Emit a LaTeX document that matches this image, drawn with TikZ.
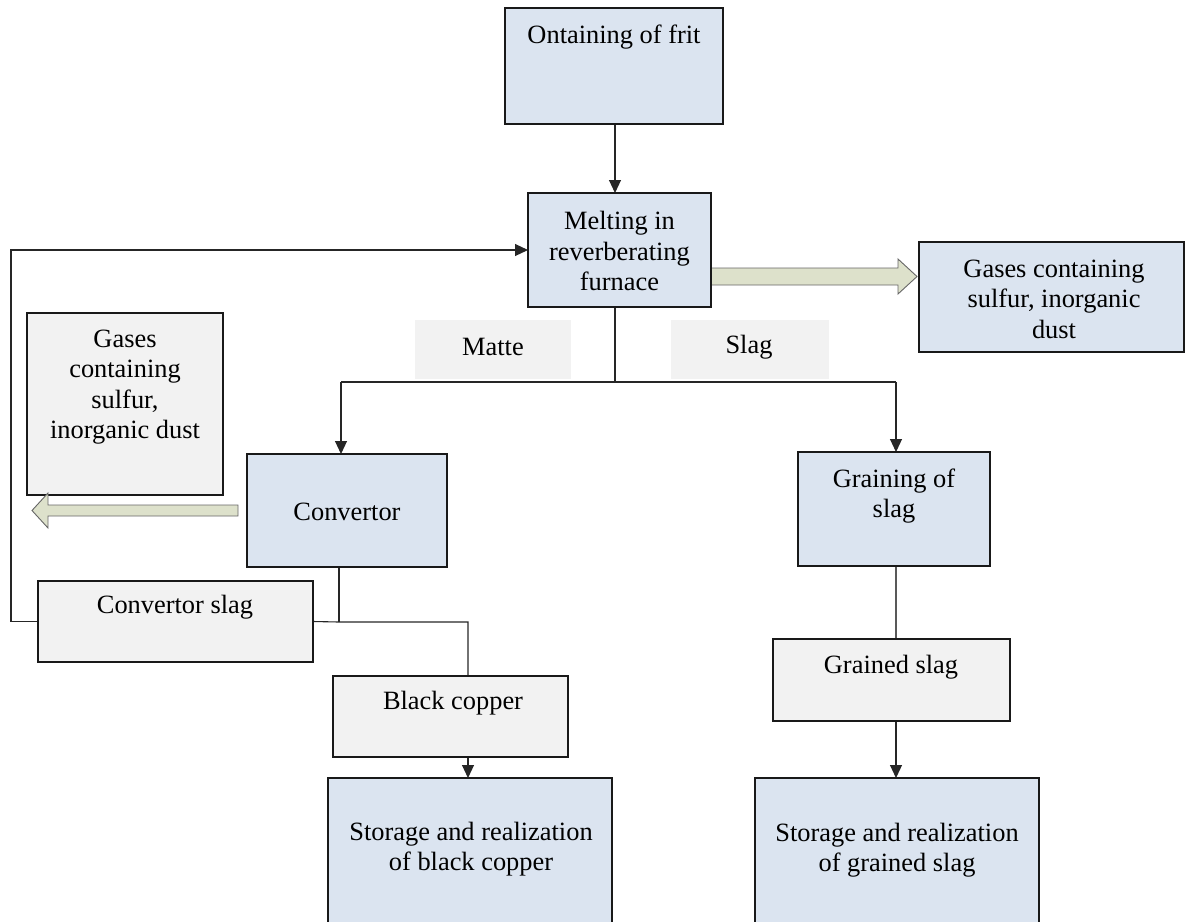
\documentclass[tikz,border=0pt]{standalone}
\usepackage{fontspec}
\setmainfont{Liberation Serif}
\usetikzlibrary{arrows.meta,backgrounds}
\definecolor{boxblue}{RGB}{219,228,240}
\definecolor{boxgray}{RGB}{242,242,242}
\definecolor{arrowfill}{RGB}{221,225,203}
\newcommand\fs{\fontsize{26.4}{30.5}\selectfont}
\begin{document}
\begin{tikzpicture}[x=1pt,y=-1pt,
 bluebox/.style={draw=black!90, line width=1.6pt, fill=boxblue, inner sep=0pt, outer sep=0pt},
 graybox/.style={draw=black!90, line width=1.6pt, fill=boxgray, inner sep=0pt, outer sep=0pt},
 lblbox/.style={fill=boxgray, inner sep=0pt, outer sep=0pt},
 txt/.style={font=\fs, align=center, inner sep=0pt},
 conn/.style={draw=black!85, line width=1.1pt},
 arr/.style={conn, -{Triangle[length=13pt,width=12pt]}},
 fat/.style={fill=arrowfill, draw=black!60, line width=0.9pt, line join=miter}
]
\useasboundingbox (0,0) rectangle (1186,921);

% boxes
\node[bluebox, minimum width=218pt, minimum height=116pt] (frit) at (614,66) {};
\node[bluebox, minimum width=183pt, minimum height=114pt] (melt) at (619.5,250) {};
\node[bluebox, minimum width=265pt, minimum height=110pt] (gasR) at (1051.5,297) {};
\node[lblbox, minimum width=156pt, minimum height=59pt] (matte) at (493,349.5) {};
\node[lblbox, minimum width=158pt, minimum height=59pt] (slag) at (750,349.5) {};
\node[graybox, minimum width=196pt, minimum height=182pt] (gasL) at (125,404) {};
\node[bluebox, minimum width=200pt, minimum height=113pt] (conv) at (347,510.5) {};
\node[graybox, minimum width=275pt, minimum height=81pt] (cslag) at (175.5,621.5) {};
\node[graybox, minimum width=235pt, minimum height=81pt] (bc) at (450.5,716.5) {};
\node[bluebox, minimum width=284pt, minimum height=146pt] (sb) at (470,851) {};
\node[bluebox, minimum width=192pt, minimum height=114pt] (grain) at (894,509) {};
\node[graybox, minimum width=237pt, minimum height=82pt] (gslag) at (891.5,680) {};
\node[bluebox, minimum width=284pt, minimum height=146pt] (sg) at (897,851) {};

% texts
\node[txt] (tfrit) at (614,37) {Ontaining of frit};
\node[txt] (tmelt) at (619.5,251) {Melting in\\reverberating\\furnace};
\node[txt] (tgasR) at (1054,299) {Gases containing\\sulfur, inorganic\\dust};
\node[txt] (tmatte) at (493,347) {Matte};
\node[txt] (tslag) at (749,347) {Slag};
\node[txt] (tgasL) at (125,387) {Gases\\containing\\sulfur,\\inorganic dust};
\node[txt] (tconv) at (347,512) {Convertor};
\node[txt] (tcslag) at (175,607) {Convertor slag};
\node[txt] (tbc) at (453,703) {Black copper};
\node[txt] (tsb) at (471,849) {Storage and realization\\of black copper};
\node[txt] (tgrain) at (894,496) {Graining of\\slag};
\node[txt] (tgslag) at (891,667) {Grained slag};
\node[txt] (tsg) at (897,850) {Storage and realization\\of grained slag};

% junction coordinates
\coordinate (j) at (615,382);
\coordinate (jl) at (341,382);
\coordinate (jr) at (896,382);
\coordinate (jc) at (339,622);
\coordinate (jb) at (468,622);
\coordinate (fb) at (11,621.5);

\begin{scope}[on background layer]
\draw[arr] (frit.south -| j) -- (melt.north -| j);
\draw[conn] (melt.south -| j) -- (j);
\draw[conn] (jl) -- (jr);
\draw[arr] (jl) -- (conv.north -| jl);
\draw[arr] (jr) -- (grain.north -| jr);
\draw[conn] (conv.south -| jc) -- (jc);
\draw[conn] (cslag.east) -- (jc) -- (jb) -- (bc.north -| jb);
\draw[arr] (cslag.west) -- (fb) |- (melt.west);
\draw[arr] (bc.south -| jb) -- (sb.north -| jb);
\draw[conn, draw=black!65] (grain.south -| jr) -- (gslag.north -| jr);
\draw[arr] (gslag.south -| jr) -- (sg.north -| jr);
% block arrows
\draw[fat] (705,268) -- (898,268) -- (898,259) -- (917,276.5) -- (898,294) -- (898,285) -- (705,285) -- cycle;
\end{scope}
\draw[fat] (238,505) -- (48,505) -- (48,493) -- (32,510.5) -- (48,528) -- (48,516) -- (238,516) -- cycle;
\end{tikzpicture}
\end{document}
